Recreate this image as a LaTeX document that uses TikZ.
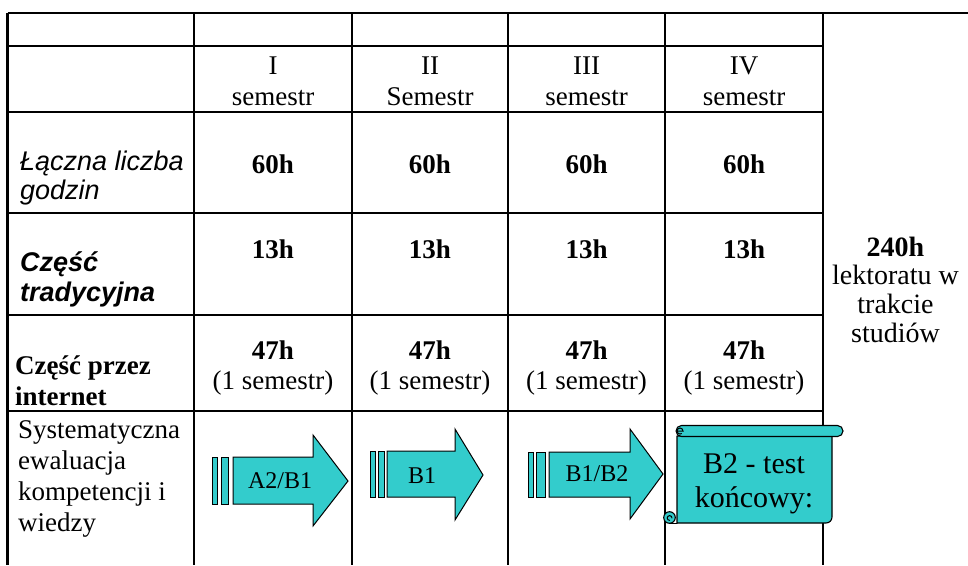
\documentclass[tikz,border=0pt]{standalone}
\usepackage{fontspec}
\setmainfont{Liberation Serif}
\newfontfamily\arialf{Liberation Sans}
\definecolor{turq}{RGB}{51,204,204}
\begin{document}
\begin{tikzpicture}[x=1pt,y=-1pt,
  thk/.style={line width=2.6pt},
  mid/.style={line width=2pt},
  thn/.style={line width=1.3pt},
  txt/.style={inner sep=0pt, font=\fontsize{27}{31}\selectfont},
  btxt/.style={inner sep=0pt, font=\fontsize{27}{31}\selectfont\bfseries},
  rtxt/.style={inner sep=0pt, font=\fontsize{28}{30}\selectfont},
  rbtxt/.style={inner sep=0pt, font=\fontsize{28}{30}\selectfont\bfseries},
  sitxt/.style={inner sep=0pt, font=\fontsize{27}{31}\selectfont\arialf\itshape},
  sbitxt/.style={inner sep=0pt, font=\fontsize{27}{31}\selectfont\arialf\bfseries\itshape},
  arrtxt/.style={inner sep=0pt, font=\fontsize{24}{28}\selectfont},
  scrtxt/.style={inner sep=0pt, font=\fontsize{30}{34}\selectfont},
  shapefill/.style={fill=turq, draw=black, line width=1pt, line join=miter},
  scrollfill/.style={fill=turq, draw=black, line width=1.1pt, line join=round},
  curl/.style={draw=black, line width=1pt, line cap=round}
]
\useasboundingbox (0,0) rectangle (968,565);
\fill[white] (0,0) rectangle (968,565);

% ---- table grid ----
\draw[thk] (7.5,13) -- (968,13);
\draw[thk] (7.5,13) -- (7.5,565);
\draw[thk] (194,13) -- (194,565);
\draw[thn] (352,13) -- (352,565);
\draw[mid] (508,13) -- (508,565);
\draw[mid] (665,13) -- (665,565);
\draw[thk] (823,13) -- (823,565);
\draw[thk] (7.5,46) -- (823,46);
\draw[thk] (7.5,112) -- (823,112);
\draw[thk] (7.5,213) -- (823,213);
\draw[thn] (7.5,315) -- (823,315);
\draw[thk] (7.5,411) -- (823,411);

% ---- header row ----
\node[txt, anchor=base] (h1a) at (273,74) {I};
\node[txt, anchor=base] (h1b) at (273,105) {semestr};
\node[txt, anchor=base] (h2a) at (430,74) {II};
\node[txt, anchor=base] (h2b) at (430,105) {Semestr};
\node[txt, anchor=base] (h3a) at (586.5,74) {III};
\node[txt, anchor=base] (h3b) at (586.5,105) {semestr};
\node[txt, anchor=base] (h4a) at (744,74) {IV};
\node[txt, anchor=base] (h4b) at (744,105) {semestr};

% ---- row labels ----
\node[sitxt, anchor=base west] (la1) at (20,170) {Łączna liczba};
\node[sitxt, anchor=base west] (la2) at (20,199) {godzin};
\node[sbitxt, anchor=base west] (lb1) at (20,271) {Część};
\node[sbitxt, anchor=base west] (lb2) at (20,301) {tradycyjna};
\node[btxt, anchor=base west] (lc1) at (15,374) {Część przez};
\node[btxt, anchor=base west] (lc2) at (15,405) {internet};
\node[txt, anchor=base west] (ld1) at (18,438) {Systematyczna};
\node[txt, anchor=base west] (ld2) at (18,469) {ewaluacja};
\node[txt, anchor=base west] (ld3) at (18,500) {kompetencji i};
\node[txt, anchor=base west] (ld4) at (18,531) {wiedzy};

% ---- values ----
\foreach \cx/\nm in {273/a,430/b,586.5/c,744/d}{
  \node[btxt, anchor=base] (t60\nm) at (\cx,173) {60h};
  \node[btxt, anchor=base] (t13\nm) at (\cx,258) {13h};
  \node[btxt, anchor=base] (t47\nm) at (\cx,359) {47h};
  \node[txt, anchor=base] (tsm\nm) at (\cx,389) {(1 semestr)};
}

% ---- right column ----
\node[rbtxt, anchor=base] (r1) at (895.5,256) {240h};
\node[rtxt, anchor=base] (r2) at (895.5,284) {lektoratu w};
\node[rtxt, anchor=base] (r3) at (895.5,313) {trakcie};
\node[rtxt, anchor=base] (r4) at (895.5,342) {studiów};

% ---- arrows ----
\draw[shapefill] (212,457) rectangle (217,504);
\draw[shapefill] (221,457) rectangle (228,504);
\draw[shapefill] (233,457) -- (313,457) -- (313,435) -- (348,481) -- (313,526) -- (313,504) -- (233,504) -- cycle;
\node[arrtxt] (a1) at (280,481) {A2/B1};

\draw[shapefill] (370,451) rectangle (375,497);
\draw[shapefill] (378,451) rectangle (384,497);
\draw[shapefill] (387,451) -- (455,451) -- (455,429) -- (483,475) -- (455,520) -- (455,497) -- (387,497) -- cycle;
\node[arrtxt] (a2) at (422,476) {B1};

\draw[shapefill] (528,452) rectangle (533,497);
\draw[shapefill] (536,452) rectangle (545,497);
\draw[shapefill] (549,452) -- (630,452) -- (630,429) -- (663,474) -- (630,519) -- (630,497) -- (549,497) -- cycle;
\node[arrtxt] (a3) at (597,474) {B1/B2};

% ---- scroll ----
\draw[scrollfill] (677,436) -- (677,523) -- (826,523)
  arc[start angle=90, end angle=0, radius=6] -- (832,436) -- cycle;
\draw[scrollfill, rounded corners=5.5pt] (676,425.5) rectangle (843,436.5);
\draw[curl] (677.5,431) -- (683,431) arc[start angle=0, end angle=-300, radius=3];
\draw[scrollfill] (669.5,517.5) circle[radius=5.8];
\draw[curl] (669.5,523.3) -- (677,523.3);
\draw[curl] (672,518) arc[start angle=0, end angle=-270, radius=2.4];
\node[scrtxt, anchor=base] (s1) at (754,473) {B2 - test};
\node[scrtxt, anchor=base] (s2) at (754,507) {końcowy:};
\end{tikzpicture}
\end{document}
